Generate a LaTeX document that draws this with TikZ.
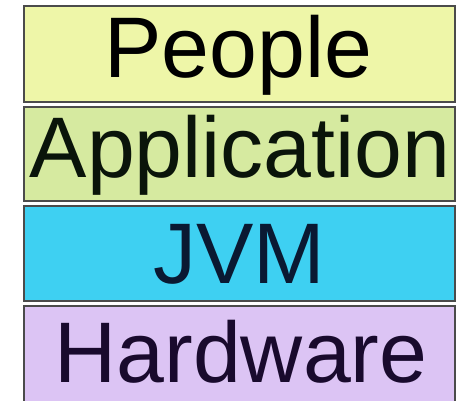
\documentclass[tikz,border=0pt]{standalone}
\usepackage{fontspec}
\setmainfont{Liberation Sans}
\definecolor{peoplec}{RGB}{238,246,168}
\definecolor{appc}{RGB}{214,234,160}
\definecolor{jvmc}{RGB}{62,208,242}
\definecolor{hwc}{RGB}{220,196,244}
\definecolor{edgec}{RGB}{75,75,75}
\tikzset{
  layerbox/.style={draw=edgec, line width=2pt, rectangle, inner sep=0pt,
    minimum width=431pt, anchor=north west},
  layertext/.style={anchor=base, inner sep=0pt, font=\fontsize{86}{86}\selectfont}
}
\begin{document}
\begin{tikzpicture}[x=1pt,y=1pt]
\useasboundingbox (0,0) rectangle (458,400);
\clip (0,0) rectangle (458,400);
\fill[white] (0,0) rectangle (458,400);
\node[layerbox, fill=peoplec, minimum height=96pt] (people) at (23,395) {};
\node[layerbox, fill=appc, minimum height=94pt] (app) at (23,294) {};
\node[layerbox, fill=jvmc, minimum height=95pt] (jvm) at (23,195) {};
\node[layerbox, fill=hwc, minimum height=102pt] (hw) at (23,95) {};
\node[layertext, text=black] (tpeople) at (238.5,323) {People};
\node[layertext, text={rgb,255:red,10;green,20;blue,10}] (tapp) at (240,223) {Application};
\node[layertext, text={rgb,255:red,10;green,25;blue,50}] (tjvm) at (239,117) {JVM};
\node[layertext, text={rgb,255:red,25;green,10;blue,45}] (thw) at (241,18) {Hardware};
\end{tikzpicture}
\end{document}
